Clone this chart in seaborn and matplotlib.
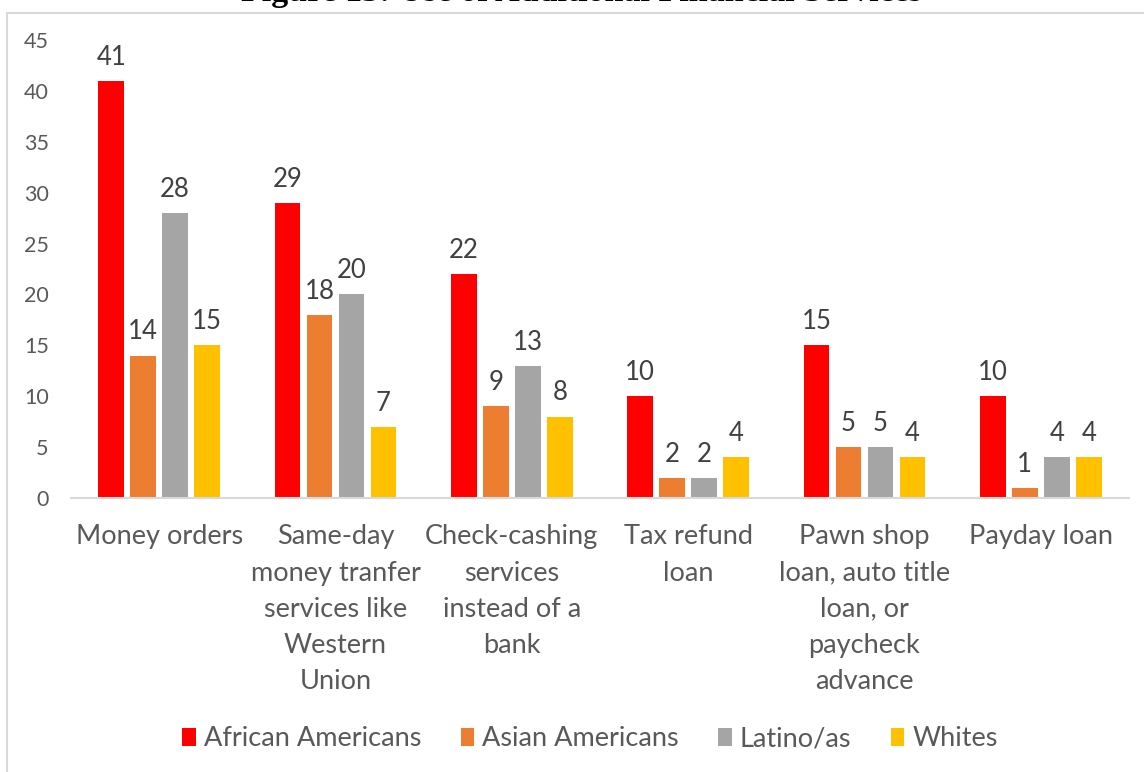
import matplotlib
matplotlib.use("Agg")
import matplotlib.pyplot as plt
from matplotlib.patches import Rectangle
import seaborn as sns
import pandas as pd

# Survey results: share (%) of each group using each financial service
services = [
    "Money orders",
    "Same-day\nmoney tranfer\nservices like\nWestern\nUnion",
    "Check-cashing\nservices\ninstead of a\nbank",
    "Tax refund\nloan",
    "Pawn shop\nloan, auto title\nloan, or\npaycheck\nadvance",
    "Payday loan",
]
groups = ["African Americans", "Asian Americans", "Latino/as", "Whites"]
african_americans = [41, 29, 22, 10, 15, 10]
asian_americans = [14, 18, 9, 2, 5, 1]
latinos = [28, 20, 13, 2, 5, 4]
whites = [15, 7, 8, 4, 4, 4]
colors = ["#FF0000", "#ED7D31", "#A5A5A5", "#FFC000"]
yticks = [0, 5, 10, 15, 20, 25, 30, 35, 40, 45]
title = "Figure 13: Use of Additional Financial Services"

series = [african_americans, asian_americans, latinos, whites]
df = pd.DataFrame(
    [(s, g, v) for g, vals in zip(groups, series) for s, v in zip(services, vals)],
    columns=["service", "group", "pct"],
)

sns.set_theme(style="white")
plt.rcParams["font.family"] = ["Lato", "DejaVu Sans"]

W, H = 1144, 772
fig = plt.figure(figsize=(W / 100, H / 100), dpi=100)
ax = fig.add_axes([71 / W, 1 - 498 / H, (1129 - 71) / W, (498 - 40) / H])

sns.barplot(
    data=df, x="service", y="pct", hue="group", hue_order=groups,
    palette=colors, width=0.725, gap=0.2, errorbar=None, ax=ax,
    linewidth=0, saturation=1,
)

for cont in ax.containers:
    ax.bar_label(cont, fmt="%d", padding=8, fontsize=18.5, color="#404040")

ax.set_ylim(0, 45)
ax.set_yticks(yticks)
ax.set_xlim(-0.5, len(services) - 0.5)
ax.set_xlabel("")
ax.set_ylabel("")
ax.tick_params(axis="y", length=0, pad=16, labelsize=15.5, labelcolor="#595959")
ax.tick_params(axis="x", length=0, pad=19, labelsize=19.5, labelcolor="#595959")
for lbl in ax.get_xticklabels():
    lbl.set_linespacing(1.56)
for side in ["top", "right", "left"]:
    ax.spines[side].set_visible(False)
ax.spines["bottom"].set_color("#D9D9D9")
ax.spines["bottom"].set_linewidth(1.5)
ax.grid(False)

handles, labels = ax.get_legend_handles_labels()
ax.legend(
    handles, labels, loc="center", bbox_to_anchor=(590 / W, 1 - 739 / H),
    bbox_transform=fig.transFigure, ncol=4, frameon=False, fontsize=19.5,
    labelcolor="#595959", handlelength=0.5, handleheight=0.65,
    handletextpad=0.3, columnspacing=1.45,
)

# chart area frame (extends past the right and bottom edges)
fig.patches.append(Rectangle((7 / W, -0.1), 1.2, 1 - 13 / H + 0.1,
                             transform=fig.transFigure, fill=False,
                             edgecolor="#D9D9D9", linewidth=1.5))

fig.text(581 / W, 1 - 1.5 / H, title, ha="center", va="baseline",
         fontsize=24.5, fontweight="bold", family=["Liberation Serif"],
         color="black")

fig.savefig("out.png", dpi=100)
